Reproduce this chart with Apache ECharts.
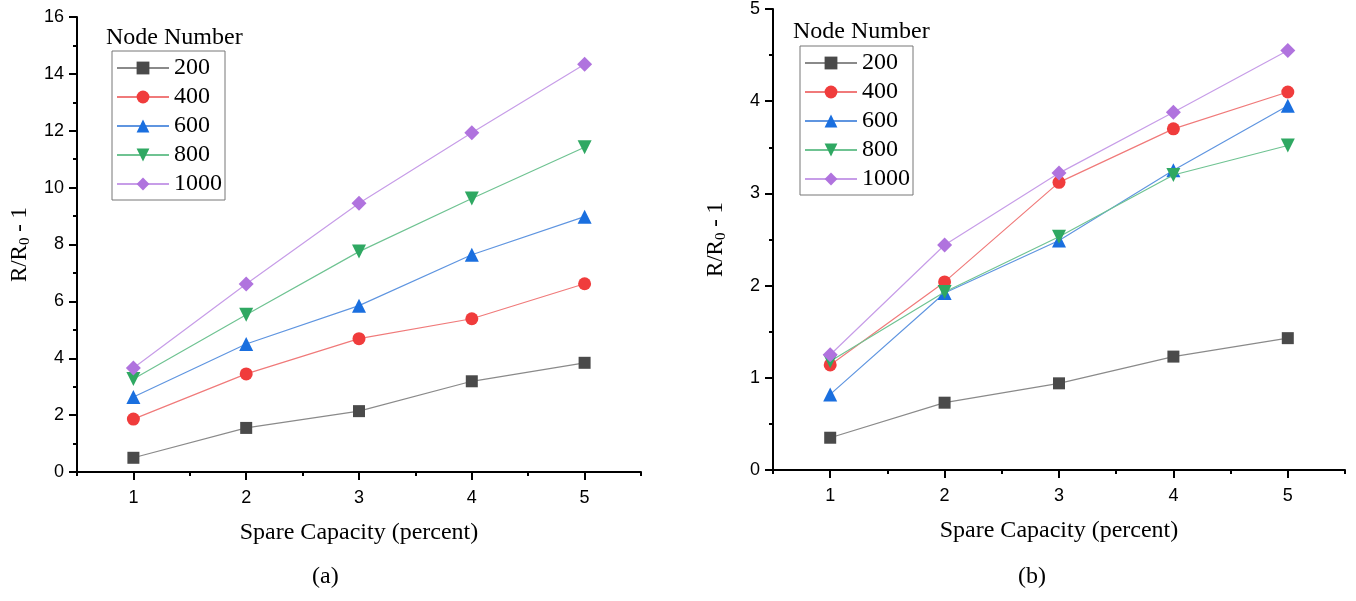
<!DOCTYPE html>
<html><head><meta charset="utf-8">
<script src="https://cdn.jsdelivr.net/npm/echarts@6/dist/echarts.min.js"></script>
<style>html,body{margin:0;padding:0;background:#fff}#c{width:1356px;height:601px}</style>
</head><body><div id="c"></div>
<script>
const xValues = [1, 2, 3, 4, 5];
const seriesNames = ['200', '400', '600', '800', '1000'];
// Panel (a)
const a200 = [0.50, 1.55, 2.14, 3.19, 3.84];
const a400 = [1.86, 3.45, 4.69, 5.39, 6.62];
const a600 = [2.64, 4.50, 5.85, 7.64, 8.98];
const a800 = [3.27, 5.53, 7.75, 9.62, 11.42];
const a1000 = [3.66, 6.61, 9.45, 11.93, 14.34];
// Panel (b)
const b200 = [0.35, 0.73, 0.94, 1.23, 1.43];
const b400 = [1.14, 2.04, 3.12, 3.70, 4.10];
const b600 = [0.82, 1.92, 2.49, 3.25, 3.95];
const b800 = [1.18, 1.93, 2.53, 3.20, 3.52];
const b1000 = [1.25, 2.44, 3.22, 3.88, 4.55];
const yTicksA = [0, 16, 2];
const yTicksB = [0, 5, 1];
const legendTitle = 'Node Number';
const xName = 'Spare Capacity (percent)';

const colors = ['#4a4a4a', '#f03c3c', '#1a6fdf', '#2fa862', '#b073de'];
const lineColors = ['#8a8a8a', '#f07a7a', '#5f95e0', '#6fc392', '#c79de8'];
const symbols = ['rect', 'circle', 'triangle', 'triangle', 'diamond'];
const rotates = [0, 0, 0, 180, 0];
const sizes = [12, 13, 14, 14, 15];

const dataA = [a200, a400, a600, a800, a1000];
const dataB = [b200, b400, b600, b800, b1000];

const sansLbl = {color: '#000', fontFamily: 'Liberation Sans, Arial', fontSize: 18};
const serif = 'Liberation Serif, Times New Roman';

function xAxes(gi) {
  return [{
    type: 'value', gridIndex: gi, min: 0.5, max: 5.5,
    axisLine: {lineStyle: {color: '#000', width: 2}},
    axisTick: {show: true, length: 8, lineStyle: {color: '#000', width: 2}, customValues: xValues},
    axisLabel: Object.assign({margin: 17, customValues: xValues}, sansLbl),
    splitLine: {show: false},
    name: xName, nameLocation: 'middle', nameGap: 49,
    nameTextStyle: {fontFamily: serif, fontSize: 24, color: '#000'}
  }, {
    type: 'value', gridIndex: gi, min: 0.5, max: 5.5, position: 'bottom',
    axisLine: {show: false},
    axisTick: {show: true, length: 4, lineStyle: {color: '#000', width: 2}, customValues: [0.5, 1.5, 2.5, 3.5, 4.5, 5.5]},
    axisLabel: {show: false}, splitLine: {show: false}
  }];
}
function yAxis(gi, t) {
  return {
    type: 'value', gridIndex: gi, min: t[0], max: t[1], interval: t[2],
    axisLine: {show: true, lineStyle: {color: '#000', width: 2}},
    axisTick: {show: true, length: 8, lineStyle: {color: '#000', width: 2}},
    minorTick: {show: true, splitNumber: 2, length: 4, lineStyle: {color: '#000', width: 2}},
    axisLabel: Object.assign({margin: 13}, sansLbl),
    splitLine: {show: false},
    name: '{a|R/R}{s|0}{a| - 1}', nameLocation: 'middle', nameRotate: 90, nameGap: 44,
    nameTextStyle: {rich: {
      a: {fontFamily: serif, fontSize: 23, color: '#000'},
      s: {fontFamily: serif, fontSize: 15, color: '#000', padding: [11, 0, 0, 0]}
    }}
  };
}
const series = [];
[dataA, dataB].forEach((d, gi) => {
  d.forEach((vals, i) => {
    series.push({
      type: 'line', name: seriesNames[i], xAxisIndex: gi * 2, yAxisIndex: gi,
      data: xValues.map((x, k) => [x, vals[k]]),
      symbol: symbols[i], symbolSize: sizes[i], symbolRotate: rotates[i],
      itemStyle: {color: colors[i]}, lineStyle: {color: lineColors[i], width: 1.2},
      z: 2 + i, animation: false
    });
  });
});
function legend(left, top) {
  return {
    data: seriesNames, orient: 'vertical', left: left, top: top,
    itemWidth: 52, itemHeight: 16, itemGap: 5,
    padding: [5, 3, 4, 4], borderColor: '#777', borderWidth: 1,
    textStyle: {fontFamily: serif, fontSize: 24, color: '#000', lineHeight: 24},
    selectedMode: false
  };
}
const chart = echarts.init(document.getElementById('c'));
chart.setOption({
  animation: false,
  grid: [
    {left: 77, top: 17, width: 564, height: 455},
    {left: 773, top: 9, width: 572, height: 461}
  ],
  xAxis: [...xAxes(0), ...xAxes(1)],
  yAxis: [yAxis(0, yTicksA), yAxis(1, yTicksB)],
  legend: [legend(112, 51), legend(800, 46)],
  graphic: [
    {type: 'text', left: 106, top: 26, style: {text: legendTitle, font: '24px ' + serif, fill: '#000'}},
    {type: 'text', left: 793, top: 20, style: {text: legendTitle, font: '24px ' + serif, fill: '#000'}},
    {type: 'text', left: 312, top: 565, style: {text: '(a)', font: '24px ' + serif, fill: '#000'}},
    {type: 'text', left: 1018, top: 565, style: {text: '(b)', font: '24px ' + serif, fill: '#000'}}
  ],
  series: series
});
</script></body></html>
